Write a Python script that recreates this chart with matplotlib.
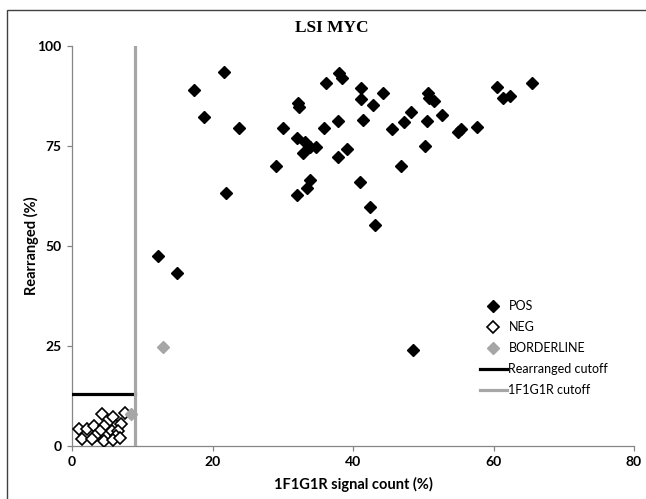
import matplotlib
matplotlib.use("Agg")
import matplotlib.pyplot as plt
from matplotlib.patches import Rectangle

title = "LSI MYC"
x_label = "1F1G1R signal count (%)"
y_label = "Rearranged (%)"
x_ticks = [0, 20, 40, 60, 80]
y_ticks = [0, 25, 50, 75, 100]

pos_x = [21.6, 17.4, 18.8, 23.8, 30.0, 36.1, 38.0, 38.5, 41.2, 41.1, 42.8, 44.3,
         32.2, 32.3, 37.8, 41.4, 35.9, 45.5, 32.0, 33.1, 33.9, 34.7, 32.9, 37.8,
         39.1, 29.0, 41.0, 33.9, 33.4, 32.0, 21.9, 50.7, 50.8, 51.6, 48.3, 47.2,
         50.5, 52.6, 50.2, 46.9, 55.0, 55.4, 57.6, 60.5, 61.3, 62.3, 65.5, 42.4,
         43.2, 12.3, 15.0, 48.6]
pos_y = [93.5, 88.9, 82.3, 79.6, 79.5, 90.8, 93.3, 92.0, 89.6, 86.8, 85.3, 88.2,
         85.8, 84.8, 81.3, 81.5, 79.4, 79.3, 77.1, 75.9, 74.7, 74.7, 73.2, 72.3,
         74.2, 69.9, 65.9, 66.4, 64.4, 62.7, 63.2, 88.3, 86.9, 86.2, 83.5, 81.1,
         81.2, 82.7, 75.1, 70.0, 78.6, 79.3, 79.7, 89.8, 87.1, 87.5, 90.8, 59.8,
         55.3, 47.4, 43.3, 24.0]

neg_x = [4.3, 5.8, 7.6, 1.0, 2.1, 3.1, 4.5, 6.2, 7.0, 4.0, 5.7, 6.6, 3.3, 6.2,
         1.4, 2.8, 4.5, 5.9, 6.8]
neg_y = [8.0, 7.2, 8.2, 4.3, 4.3, 5.1, 5.1, 5.1, 5.5, 3.8, 3.8, 3.8, 2.6, 2.6,
         1.75, 1.75, 1.3, 1.5, 2.0]

border_x = [12.9, 8.4]
border_y = [24.8, 8.0]

rearranged_cutoff = 13.0
signal_cutoff = 9.0

GRAY = "#A6A6A6"
AXIS_GRAY = "#868686"
sans = ["Lato", "DejaVu Sans"]

fig = plt.figure(figsize=(6.46, 4.99), dpi=100)
ax = fig.add_axes([72 / 646, 1 - 446 / 499, (634 - 72) / 646, (446 - 46) / 499])

# outer chart frame
fig.patches.append(Rectangle((7 / 646, -0.05), 1.2, (499 - 10) / 499 + 0.05,
                             transform=fig.transFigure, fill=False,
                             edgecolor="#404040", linewidth=1.0))

ax.plot(pos_x, pos_y, linestyle="none", marker="D", ms=6.5,
        markerfacecolor="black", markeredgecolor="black", label="POS", zorder=4)
ax.plot(neg_x, neg_y, linestyle="none", marker="D", ms=5.8,
        markerfacecolor="white", markeredgecolor="black", markeredgewidth=1.2,
        label="NEG", zorder=4)
ax.plot(border_x, border_y, linestyle="none", marker="D", ms=6.5,
        markerfacecolor=GRAY, markeredgecolor=GRAY, label="BORDERLINE", zorder=4)
ax.plot([0, signal_cutoff], [rearranged_cutoff, rearranged_cutoff], color="black",
        linewidth=2.3, label="Rearranged cutoff", zorder=3)
ax.plot([signal_cutoff, signal_cutoff], [0, 100], color=GRAY, linewidth=2.3,
        label="1F1G1R cutoff", zorder=5)

ax.set_xlim(0, 80)
ax.set_ylim(0, 100)
ax.set_xticks(x_ticks)
ax.set_yticks(y_ticks)
for s in ["top", "right"]:
    ax.spines[s].set_visible(False)
for s in ["left", "bottom"]:
    ax.spines[s].set_color(AXIS_GRAY)
    ax.spines[s].set_linewidth(0.9)
ax.tick_params(direction="out", length=3.5, width=0.9, color=AXIS_GRAY, pad=4)
for lab in ax.get_xticklabels() + ax.get_yticklabels():
    lab.set_family(sans)
    lab.set_fontweight("bold")
    lab.set_fontsize(10)
ax.set_xlabel(x_label, family=sans, fontweight="bold", fontsize=10.5, labelpad=6)
ax.set_ylabel(y_label, family=sans, fontweight="bold", fontsize=10.5, labelpad=-1)

fig.text(332 / 646, 1 - 28 / 499, title, ha="center", va="center",
         family=["Liberation Serif", "DejaVu Serif"], fontweight="bold", fontsize=12.5)

leg = ax.legend(loc="upper left", bbox_to_anchor=(475 / 646, 1 - 295 / 499),
                bbox_transform=fig.transFigure, frameon=False,
                prop={"family": sans, "size": 9}, handlelength=2.15,
                handletextpad=0.12, labelspacing=0.72, borderaxespad=0)

fig.savefig("out.png", dpi=100)
